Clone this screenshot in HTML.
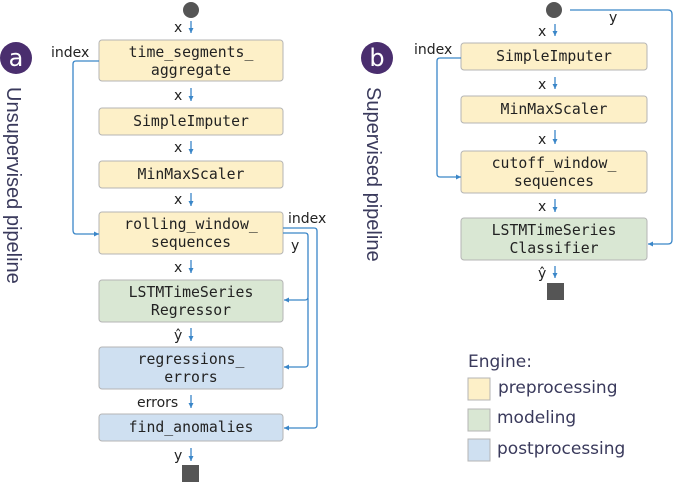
<!DOCTYPE html>
<html><head><style>
html,body{margin:0;padding:0;background:#fff;width:673px;height:482px;overflow:hidden}
svg{display:block}
.m{font-family:"DejaVu Sans Mono","Liberation Mono",monospace;font-size:14.8px;fill:#222;text-anchor:middle}
.l{font-family:"DejaVu Sans","Liberation Sans",sans-serif;font-size:14px;fill:#222}
.g{font-family:"DejaVu Sans","Liberation Sans",sans-serif;font-size:17px;fill:#3a3a5c}
.v{font-family:"Liberation Sans",sans-serif;font-size:20px;fill:#3a3a5c}
.ln{stroke:#3a86c8;stroke-width:1.3;fill:none}
.y{fill:#fdf0c8;stroke:#b5b5b5;stroke-width:1}
.gr{fill:#d9e7d3;stroke:#b5b5b5;stroke-width:1}
.b{fill:#cfe0f1;stroke:#b5b5b5;stroke-width:1}
</style></head><body>
<svg width="673" height="482" viewBox="0 0 673 482" xmlns="http://www.w3.org/2000/svg">
<defs><marker id="a" markerWidth="6" markerHeight="6" refX="5" refY="3" orient="auto" markerUnits="userSpaceOnUse"><path d="M0,0.5 L5,3 L0,5.5 z" fill="#3a86c8"/></marker></defs>

<!-- Panel A -->
<circle cx="16" cy="58" r="16" fill="#4a2e6e"/>
<text x="16" y="66" font-family="DejaVu Sans,sans-serif" font-size="24" fill="#fff" text-anchor="middle">a</text>
<text class="v" transform="translate(7,87) rotate(90)">Unsupervised pipeline</text>

<circle cx="191" cy="10" r="8" fill="#555"/>
<rect x="182" y="465" width="17" height="17" fill="#555"/>

<rect class="y" x="99" y="40" width="184" height="41" rx="3"/>
<text class="m" x="191" y="57">time_segments_</text><text class="m" x="191" y="75">aggregate</text>
<rect class="y" x="99" y="108" width="184" height="27" rx="3"/>
<text class="m" x="191" y="126">SimpleImputer</text>
<rect class="y" x="99" y="161" width="184" height="27" rx="3"/>
<text class="m" x="191" y="179">MinMaxScaler</text>
<rect class="y" x="99" y="212" width="184" height="42" rx="3"/>
<text class="m" x="191" y="229">rolling_window_</text><text class="m" x="191" y="247">sequences</text>
<rect class="gr" x="99" y="280" width="184" height="42" rx="3"/>
<text class="m" x="191" y="297">LSTMTimeSeries</text><text class="m" x="191" y="315">Regressor</text>
<rect class="b" x="99" y="347" width="184" height="42" rx="3"/>
<text class="m" x="191" y="364">regressions_</text><text class="m" x="191" y="382">errors</text>
<rect class="b" x="99" y="414" width="184" height="27" rx="3"/>
<text class="m" x="191" y="432">find_anomalies</text>

<g class="l">
<text x="174" y="32">x</text><text x="174" y="100">x</text><text x="174" y="152">x</text><text x="174" y="204">x</text>
<text x="174" y="272">x</text><text x="174" y="340">ŷ</text><text x="137" y="407">errors</text><text x="174" y="460">y</text>
<text x="51" y="57">index</text><text x="288" y="223">index</text><text x="291" y="250">y</text>
</g>
<g class="ln">
<line x1="191" y1="21" x2="191" y2="33" marker-end="url(#a)"/>
<line x1="191" y1="88" x2="191" y2="101" marker-end="url(#a)"/>
<line x1="191" y1="141" x2="191" y2="154" marker-end="url(#a)"/>
<line x1="191" y1="193" x2="191" y2="206" marker-end="url(#a)"/>
<line x1="191" y1="260" x2="191" y2="273" marker-end="url(#a)"/>
<line x1="191" y1="328" x2="191" y2="341" marker-end="url(#a)"/>
<line x1="191" y1="395" x2="191" y2="408" marker-end="url(#a)"/>
<line x1="191" y1="448" x2="191" y2="461" marker-end="url(#a)"/>
<path d="M99,61 H76 Q73,61 73,64 V230 Q73,234 76,234 H99" marker-end="url(#a)"/>
<path d="M283,228 H314 Q317,228 317,231 V425 Q317,428 314,428 H284" marker-end="url(#a)"/>
<path d="M283,233 H305 Q308,233 308,236 V297 Q308,300 305,300 H284" marker-end="url(#a)"/>
<path d="M308,298 V364 Q308,367 305,367 H284" marker-end="url(#a)"/>
</g>

<!-- Panel B -->
<circle cx="377" cy="58" r="16" fill="#4a2e6e"/>
<text x="377" y="66" font-family="DejaVu Sans,sans-serif" font-size="24" fill="#fff" text-anchor="middle">b</text>
<text class="v" transform="translate(367,87) rotate(90)">Supervised pipeline</text>

<circle cx="554" cy="10" r="8" fill="#555"/>
<rect x="547" y="283" width="17" height="17" fill="#555"/>

<rect class="y" x="461" y="43" width="186" height="27" rx="3"/>
<text class="m" x="554" y="61">SimpleImputer</text>
<rect class="y" x="461" y="96" width="186" height="27" rx="3"/>
<text class="m" x="554" y="114">MinMaxScaler</text>
<rect class="y" x="461" y="151" width="186" height="42" rx="3"/>
<text class="m" x="554" y="168">cutoff_window_</text><text class="m" x="554" y="186">sequences</text>
<rect class="gr" x="461" y="218" width="186" height="42" rx="3"/>
<text class="m" x="554" y="235">LSTMTimeSeries</text><text class="m" x="554" y="253">Classifier</text>

<g class="l">
<text x="538" y="36">x</text><text x="538" y="89">x</text><text x="538" y="144">x</text><text x="538" y="211">x</text>
<text x="538" y="278">ŷ</text><text x="609" y="22">y</text><text x="414" y="54">index</text>
</g>
<g class="ln">
<line x1="555" y1="24" x2="555" y2="36" marker-end="url(#a)"/>
<line x1="555" y1="77" x2="555" y2="89" marker-end="url(#a)"/>
<line x1="555" y1="130" x2="555" y2="144" marker-end="url(#a)"/>
<line x1="555" y1="199" x2="555" y2="212" marker-end="url(#a)"/>
<line x1="555" y1="266" x2="555" y2="278" marker-end="url(#a)"/>
<path d="M570,10 H668 Q672,10 672,14 V240 Q672,244 668,244 H648" marker-end="url(#a)"/>
<path d="M461,58 H440 Q437,58 437,61 V174 Q437,177 440,177 H461" marker-end="url(#a)"/>
</g>

<!-- Legend -->
<text class="g" x="468" y="367">Engine:</text>
<rect class="y" x="468" y="378" width="22" height="22" stroke="#aaa"/>
<text class="g" x="498" y="393">preprocessing</text>
<rect class="gr" x="468" y="409" width="22" height="22" stroke="#aaa"/>
<text class="g" x="497" y="423">modeling</text>
<rect class="b" x="468" y="439" width="22" height="22" stroke="#aaa"/>
<text class="g" x="497" y="454">postprocessing</text>
</svg>
</body></html>
